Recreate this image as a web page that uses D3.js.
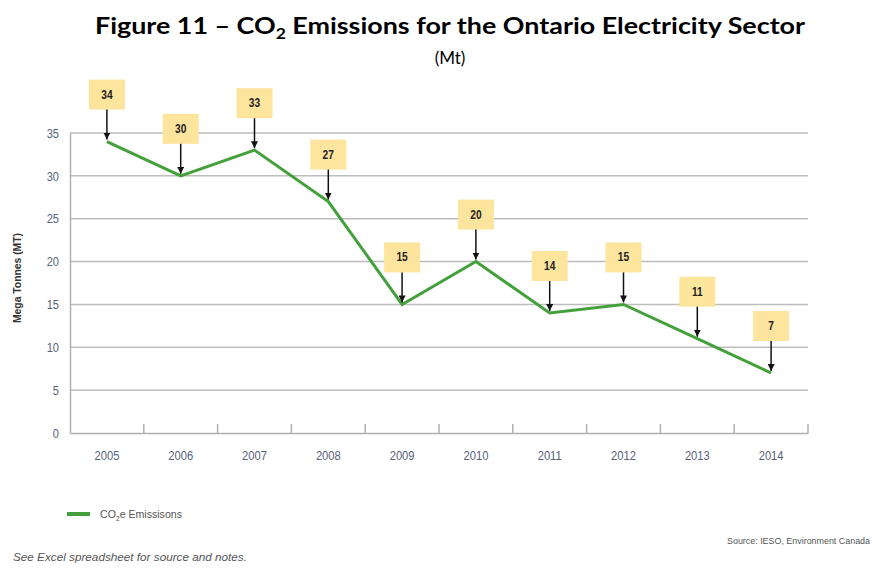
<!DOCTYPE html>
<html><head><meta charset="utf-8">
<script src="https://cdn.jsdelivr.net/npm/d3@7"></script>
<style>
body{margin:0;background:#fff;}
svg{display:block;}
.cond{font-family:"Liberation Sans","Arial",sans-serif;}
</style></head>
<body><svg id="c" width="875" height="568"></svg>
<script>
const years = ["2005","2006","2007","2008","2009","2010","2011","2012","2013","2014"];
const emissions = [34,30,33,27,15,20,14,15,11,7];
const yTicks = [0,5,10,15,20,25,30,35];

const svg = d3.select("#c");
const mLeft = 70, mRight = 808, mTop = 133, mBottom = 433;
const x = d3.scaleBand().domain(years).range([mLeft,mRight]);
const y = d3.scaleLinear().domain([0,35]).range([mBottom,mTop]);
const cx = d => x(d) + x.bandwidth()/2;
function condense(sel, f){
  sel.each(function(){
    const w = this.getComputedTextLength();
    d3.select(this).attr("textLength", w*f).attr("lengthAdjust","spacingAndGlyphs");
  });
}

// title
const t = svg.append("text").attr("x",450).attr("y",34).attr("text-anchor","middle")
  .attr("font-family","Lato,'Open Sans',sans-serif").attr("font-weight","bold")
  .attr("font-size",23).attr("fill","#000")
  .attr("textLength",710).attr("lengthAdjust","spacingAndGlyphs");
t.append("tspan").text("Figure 11 \u2013 CO");
t.append("tspan").attr("font-size",15).attr("dy",5).text("2");
t.append("tspan").attr("dy",-5).text(" Emissions for the Ontario Electricity Sector");
svg.append("text").attr("x",450).attr("y",64).attr("text-anchor","middle")
  .attr("font-family","Lato,'Open Sans',sans-serif").attr("font-size",17).attr("fill","#000").text("(Mt)");

// gridlines
svg.append("g").selectAll("line").data(yTicks.filter(d=>d>0)).join("line")
  .attr("x1",mLeft).attr("x2",mRight).attr("y1",d=>y(d)).attr("y2",d=>y(d))
  .attr("stroke","#bdbdbd").attr("stroke-width",1.5);

// y axis
const ya = svg.append("g").attr("transform",`translate(${mLeft},0)`)
  .call(d3.axisLeft(y).tickValues(yTicks).tickSize(0).tickPadding(11));
ya.select(".domain").attr("stroke","#b0b0b0").attr("stroke-width",1.5);
ya.selectAll("text").attr("class","cond").attr("font-size",13).attr("fill","#56607a")
  .call(condense,0.85);

// x axis
const xa = svg.append("g").attr("transform",`translate(0,${mBottom})`)
  .call(d3.axisBottom(x).tickSize(0).tickPadding(18));
xa.select(".domain").attr("stroke","#b0b0b0").attr("stroke-width",1.5);
xa.selectAll("text").attr("class","cond").attr("font-size",13).attr("fill","#56607a")
  .call(condense,0.86);
// boundary ticks
svg.append("g").selectAll("line").data(years.slice(1).concat(["end"])).join("line")
  .attr("x1",d=>d==="end"?mRight:x(d)).attr("x2",d=>d==="end"?mRight:x(d))
  .attr("y1",mBottom).attr("y2",mBottom-9).attr("stroke","#b0b0b0").attr("stroke-width",1.5);

// y axis title
svg.append("text").attr("class","cond").attr("transform","translate(21,278) rotate(-90)")
  .attr("text-anchor","middle").attr("font-size",11.5).attr("font-weight","bold").attr("fill","#333")
  .text("Mega Tonnes (MT)").attr("textLength",90).attr("lengthAdjust","spacingAndGlyphs");

// line
const line = d3.line().x((d,i)=>cx(years[i])).y(d=>y(d));
svg.append("path").datum(emissions).attr("d",line).attr("fill","none")
  .attr("stroke","#43a03a").attr("stroke-width",3).attr("stroke-linejoin","miter");

// callouts
svg.append("defs").append("marker").attr("id","ah").attr("viewBox","0 0 10 10")
  .attr("refX",10).attr("refY",5).attr("markerWidth",7).attr("markerHeight",7)
  .attr("markerUnits","userSpaceOnUse").attr("orient","auto")
  .append("path").attr("d","M0,0 L10,5 L0,10 z").attr("fill","#111");
const co = svg.append("g").selectAll("g").data(emissions).join("g");
const gap = 32, bh = 30, bw = 36;
co.append("rect").attr("x",(d,i)=>cx(years[i])-bw/2).attr("y",d=>y(d)-gap-bh)
  .attr("width",bw).attr("height",bh).attr("fill","#fde59e");
co.append("line").attr("x1",(d,i)=>cx(years[i])).attr("x2",(d,i)=>cx(years[i]))
  .attr("y1",d=>y(d)-gap).attr("y2",d=>y(d)-2).attr("stroke","#111").attr("stroke-width",1.5)
  .attr("marker-end","url(#ah)");
co.append("text").attr("class","cond").attr("x",(d,i)=>cx(years[i])).attr("y",d=>y(d)-gap-bh/2+4)
  .attr("text-anchor","middle").attr("font-size",12).attr("font-weight","bold").attr("fill","#222")
  .text(d=>d).call(condense,0.85);

// legend
svg.append("line").attr("x1",67).attr("x2",90).attr("y1",514).attr("y2",514)
  .attr("stroke","#43a03a").attr("stroke-width",4);
const lt = svg.append("text").attr("class","cond").attr("x",100).attr("y",518)
  .attr("font-size",11).attr("fill","#555");
lt.append("tspan").text("CO");
lt.append("tspan").attr("font-size",7).attr("dy",3).text("2");
lt.append("tspan").attr("dy",-3).text("e Emissisons");
lt.attr("textLength",82).attr("lengthAdjust","spacingAndGlyphs");

svg.append("text").attr("class","cond").attr("x",727).attr("y",544)
  .attr("font-size",9).attr("fill","#555").text("Source: IESO, Environment Canada")
  .attr("textLength",143).attr("lengthAdjust","spacingAndGlyphs");
svg.append("text").attr("x",13).attr("y",561)
  .attr("font-family","'Liberation Sans',sans-serif").attr("font-style","italic")
  .attr("font-size",11.5).attr("fill","#555").text("See Excel spreadsheet for source and notes.")
  .attr("textLength",234).attr("lengthAdjust","spacingAndGlyphs");
</script></body></html>
